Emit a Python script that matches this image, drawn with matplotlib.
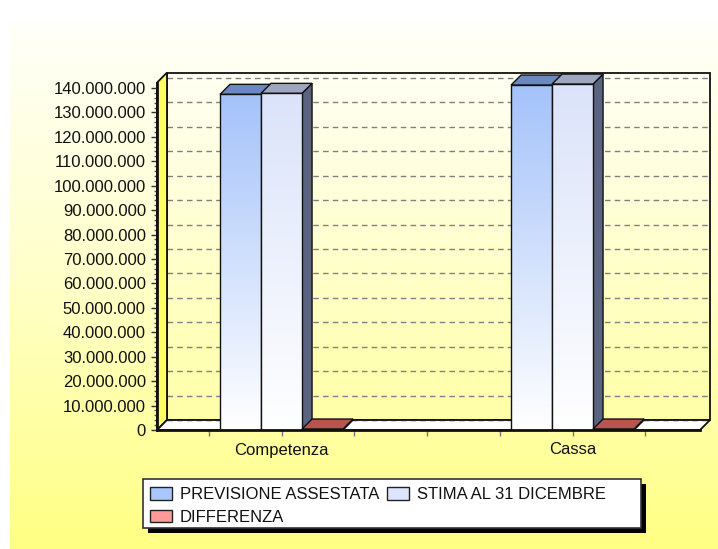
import numpy as np
import matplotlib
matplotlib.use("Agg")
import matplotlib.pyplot as plt
from matplotlib.colors import LinearSegmentedColormap
from matplotlib.patches import Polygon, Rectangle, Patch

# data
categories = ["Competenza", "Cassa"]
previsione_assestata = [137.4e6, 141.2e6]
stima_31_dicembre = [137.8e6, 141.6e6]
differenza = [0.4e6, 0.4e6]
series_names = ["PREVISIONE ASSESTATA", "STIMA AL 31 DICEMBRE", "DIFFERENZA"]
y_ticks = list(range(0, 140_000_001, 10_000_000))

plt.rcParams["font.family"] = ["Liberation Sans", "DejaVu Sans"]
FS = 12
TXT = "#111111"

W, H = 718, 549
fig = plt.figure(figsize=(W / 100, H / 100), dpi=100)

# background panel gradient
bg = fig.add_axes([0, 0, 1, 1], zorder=-10)
bg.axis("off")
bg_cmap = LinearSegmentedColormap.from_list("bg", ["#fffffa", "#ffffc8", "#ffff84"])
bg.imshow(np.linspace(0, 1, 256).reshape(-1, 1), cmap=bg_cmap, aspect="auto",
          extent=(10, W, H, 20))
bg.set_xlim(0, W)
bg.set_ylim(H, 0)

# front plane of the pseudo-3d plot
left_px, right_px, floor_px, top_px = 157, 700, 430, 82.6
ax = fig.add_axes([left_px / W, (H - floor_px) / H, (right_px - left_px) / W,
                   (floor_px - top_px) / H])
ax.patch.set_alpha(0)
xmin, xmax = -0.428, 1.438
ytop = 142.2e6
depth_px = 10
DX = depth_px * (xmax - xmin) / (right_px - left_px)
DY = depth_px * ytop / (floor_px - top_px)

# back wall with gradient
wall_cmap = LinearSegmentedColormap.from_list("wall", ["#fffff4", "#ffffa8"])
ax.imshow(np.linspace(0, 1, 256).reshape(-1, 1), cmap=wall_cmap, aspect="auto",
          extent=(xmin + DX, xmax + DX, DY, ytop + DY), zorder=0.5, clip_on=False)
ax.add_patch(Rectangle((xmin + DX, DY), xmax - xmin, ytop, fill=False,
                       edgecolor="#111111", lw=1.3, zorder=1, clip_on=False))

# gridlines on back wall
for v in y_ticks[1:]:
    ax.plot([xmin + DX, xmax + DX], [v + DY, v + DY], color="#808080", lw=1,
            ls=(0, (4, 3)), zorder=2, clip_on=False)

# left wall
ax.add_patch(Polygon([(xmin, 0), (xmin + DX, DY), (xmin + DX, ytop + DY), (xmin, ytop)],
                     facecolor="#ffff66", edgecolor="#111111", lw=1.3, zorder=3,
                     clip_on=False))
# floor
ax.add_patch(Polygon([(xmin, 0), (xmax, 0), (xmax + DX, DY), (xmin + DX, DY)],
                     facecolor="white", edgecolor="#111111", lw=1.3, zorder=3,
                     clip_on=False))
ax.plot([xmin + DX, xmax + DX], [DY, DY], color="#222222", lw=1, ls=(0, (4, 3)),
        zorder=3.5, clip_on=False)

# bars
bar_w = 41 / 291
front_grads = [
    LinearSegmentedColormap.from_list("b1", ["#ffffff", "#a4c2fa"]),
    LinearSegmentedColormap.from_list("b2", ["#ffffff", "#dbe3fa"]),
    None,
]
top_cols = ["#6b88c2", "#9ea6c0", "#b85450"]
side_cols = ["#5a6480", "#5a6480", "#8a3a38"]
series = [previsione_assestata, stima_31_dicembre, differenza]
z = 5
for ci, c in enumerate(categories):
    for si, vals in enumerate(series):
        h = vals[ci]
        x0 = ci - 1.5 * bar_w + si * bar_w
        ax.add_patch(Polygon([(x0 + bar_w, 0), (x0 + bar_w + DX, DY),
                              (x0 + bar_w + DX, h + DY), (x0 + bar_w, h)],
                             facecolor=side_cols[si], edgecolor="#111111", lw=1,
                             zorder=z, clip_on=False))
        ax.add_patch(Polygon([(x0, h), (x0 + bar_w, h), (x0 + bar_w + DX, h + DY),
                              (x0 + DX, h + DY)],
                             facecolor=top_cols[si], edgecolor="#111111", lw=1,
                             zorder=z + 0.1, clip_on=False))
        if front_grads[si] is not None:
            ax.imshow(np.linspace(0, 1, 256).reshape(-1, 1), cmap=front_grads[si],
                      origin="lower", aspect="auto", extent=(x0, x0 + bar_w, 0, h),
                      zorder=z + 0.2)
            ax.add_patch(Rectangle((x0, 0), bar_w, h, fill=False, edgecolor="#111111",
                                   lw=1, zorder=z + 0.3))
        else:
            ax.add_patch(Rectangle((x0, 0), bar_w, h, facecolor="#c0504d",
                                   edgecolor="#111111", lw=1, zorder=z + 0.3))
        z += 1

ax.set_xlim(xmin, xmax)
ax.set_ylim(0, ytop)

# axes / ticks
for s in ["top", "right"]:
    ax.spines[s].set_visible(False)
for s in ["left", "bottom"]:
    ax.spines[s].set_linewidth(2)
    ax.spines[s].set_color("#111111")
    ax.spines[s].set_zorder(20)
ax.set_yticks(y_ticks)
ax.set_yticklabels([f"{v:,}".replace(",", ".") for v in y_ticks], fontsize=FS, color=TXT)
ax.set_yticks(np.arange(0, 142e6, 2e6), minor=True)
ax.tick_params(axis="y", which="major", length=4, width=1, pad=4, color="#333333")
ax.tick_params(axis="y", which="minor", length=2, width=1, color="#555555")
ax.set_xticks(range(len(categories)))
ax.set_xticklabels(categories, fontsize=FS, color=TXT)
ax.set_xticks([-0.25, 0.25, 0.5, 0.75, 1.25], minor=True)
ax.tick_params(axis="x", which="both", length=4, width=1, pad=5, color="#777777")

# legend with hard shadow
lx0, ly0, lx1, ly1 = 143, 479, 641, 528
fig.patches.append(Rectangle(((lx0 + 5) / W, (H - ly1 - 5) / H), (lx1 - lx0) / W,
                             (ly1 - ly0) / H, transform=fig.transFigure,
                             facecolor="black", edgecolor="none", zorder=30))
fig.patches.append(Rectangle((lx0 / W, (H - ly1) / H), (lx1 - lx0) / W, (ly1 - ly0) / H,
                             transform=fig.transFigure, facecolor="white",
                             edgecolor="#333333", lw=1.2, zorder=31))
leg_cols = ["#a9c6ff", "#ff9a9a", "#dce4ff"]
handles = [Patch(facecolor=col, edgecolor="#222222", lw=1) for col in leg_cols]
leg = fig.legend(handles, [series_names[0], series_names[2], series_names[1]], ncol=2,
                 loc="upper left", bbox_to_anchor=((lx0 + 1) / W, (H - ly0 - 2) / H),
                 frameon=False, fontsize=FS, handlelength=1.35, handleheight=0.8,
                 handletextpad=0.45, columnspacing=0.45, labelspacing=0.45,
                 borderpad=0.35, borderaxespad=0)
leg.set_zorder(32)
for t in leg.get_texts():
    t.set_color(TXT)

fig.savefig("out.png", dpi=100)
